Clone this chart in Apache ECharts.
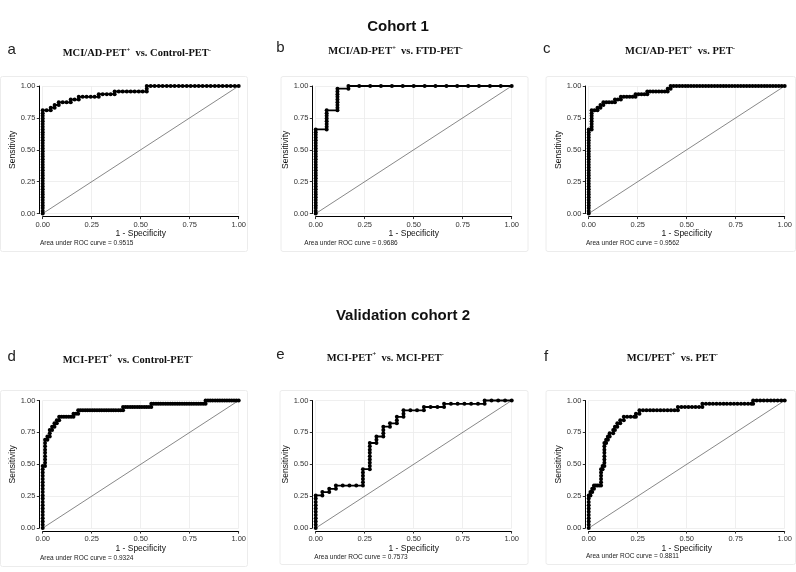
<!DOCTYPE html>
<html>
<head>
<meta charset="utf-8">
<script src="https://cdn.jsdelivr.net/npm/echarts@6/dist/echarts.min.js"></script>
<style>
html, body { margin: 0; padding: 0; background: #fff; }
#chart { width: 796px; height: 572px; }
</style>
</head>
<body>
<div id="chart"></div>
<script>
// ROC points [1 - specificity, sensitivity]
const rocA = [[0,0],[0,.021],[0,.043],[0,.064],[0,.085],[0,.106],[0,.128],[0,.149],[0,.170],[0,.191],[0,.213],[0,.234],[0,.255],[0,.277],[0,.298],[0,.319],[0,.340],[0,.362],[0,.383],[0,.404],[0,.426],[0,.447],[0,.468],[0,.489],[0,.511],[0,.532],[0,.553],[0,.574],[0,.596],[0,.617],[0,.638],[0,.660],[0,.681],[0,.702],[0,.723],[0,.745],[0,.766],[0,.787],[0,.809],
  [.020,.809],[.041,.809],[.041,.830],[.061,.830],[.061,.851],[.082,.851],[.082,.872],[.102,.872],[.122,.872],[.143,.872],[.143,.894],[.163,.894],[.184,.894],[.184,.915],[.204,.915],[.224,.915],[.245,.915],[.265,.915],[.286,.915],[.286,.936],[.306,.936],[.327,.936],[.347,.936],[.367,.936],[.367,.957],[.388,.957],[.408,.957],[.429,.957],[.449,.957],[.469,.957],[.490,.957],[.510,.957],[.531,.957],[.531,.979],[.531,1],
  [.551,1],[.571,1],[.592,1],[.612,1],[.633,1],[.653,1],[.673,1],[.694,1],[.714,1],[.735,1],[.755,1],[.776,1],[.796,1],[.816,1],[.837,1],[.857,1],[.878,1],[.898,1],[.918,1],[.939,1],[.959,1],[.980,1],[1,1]];

const rocB = [[0,0],[0,.021],[0,.043],[0,.064],[0,.085],[0,.106],[0,.128],[0,.149],[0,.170],[0,.191],[0,.213],[0,.234],[0,.255],[0,.277],[0,.298],[0,.319],[0,.340],[0,.362],[0,.383],[0,.404],[0,.426],[0,.447],[0,.468],[0,.489],[0,.511],[0,.532],[0,.553],[0,.574],[0,.596],[0,.617],[0,.638],[0,.660],
  [.056,.660],[.056,.681],[.056,.702],[.056,.723],[.056,.745],[.056,.766],[.056,.787],[.056,.809],
  [.111,.809],[.111,.830],[.111,.851],[.111,.872],[.111,.894],[.111,.915],[.111,.936],[.111,.957],[.111,.979],
  [.167,.979],[.167,1],[.222,1],[.278,1],[.333,1],[.389,1],[.444,1],[.5,1],[.556,1],[.611,1],[.667,1],[.722,1],[.778,1],[.833,1],[.889,1],[.944,1],[1,1]];

const rocC = [[0,0],[0,.021],[0,.043],[0,.064],[0,.085],[0,.106],[0,.128],[0,.149],[0,.170],[0,.191],[0,.213],[0,.234],[0,.255],[0,.277],[0,.298],[0,.319],[0,.340],[0,.362],[0,.383],[0,.404],[0,.426],[0,.447],[0,.468],[0,.489],[0,.511],[0,.532],[0,.553],[0,.574],[0,.596],[0,.617],[0,.638],[0,.660],
  [.015,.660],[.015,.681],[.015,.702],[.015,.723],[.015,.745],[.015,.766],[.015,.787],[.015,.809],[.030,.809],[.045,.809],[.045,.830],[.060,.830],[.060,.851],[.075,.851],[.075,.872],[.090,.872],[.104,.872],[.119,.872],[.134,.872],[.134,.894],[.149,.894],[.164,.894],[.164,.915],[.179,.915],[.194,.915],[.209,.915],[.224,.915],[.239,.915],[.239,.936],[.254,.936],[.269,.936],[.284,.936],[.299,.936],[.299,.957],[.313,.957],[.328,.957],[.343,.957],[.358,.957],[.373,.957],[.388,.957],[.403,.957],[.403,.979],[.418,.979],[.418,1],
  [.433,1],[.448,1],[.463,1],[.478,1],[.493,1],[.507,1],[.522,1],[.537,1],[.552,1],[.567,1],[.582,1],[.597,1],[.612,1],[.627,1],[.642,1],[.657,1],[.672,1],[.687,1],[.701,1],[.716,1],[.731,1],[.746,1],[.761,1],[.776,1],[.791,1],[.806,1],[.821,1],[.836,1],[.851,1],[.866,1],[.881,1],[.896,1],[.910,1],[.925,1],[.940,1],[.955,1],[.970,1],[.985,1],[1,1]];

const rocD = [[0,0],[0,.026],[0,.051],[0,.077],[0,.103],[0,.128],[0,.154],[0,.179],[0,.205],[0,.231],[0,.256],[0,.282],[0,.308],[0,.333],[0,.359],[0,.385],[0,.410],[0,.436],[0,.462],[0,.487],
  [.012,.487],[.012,.513],[.012,.538],[.012,.564],[.012,.590],[.012,.615],[.012,.641],[.012,.667],[.012,.692],[.024,.692],[.024,.718],[.036,.718],[.036,.744],[.036,.769],[.048,.769],[.048,.795],[.060,.795],[.060,.821],[.072,.821],[.072,.846],[.084,.846],[.084,.872],
  [.096,.872],[.108,.872],[.120,.872],[.133,.872],[.145,.872],[.157,.872],[.157,.897],[.169,.897],[.181,.897],[.181,.923],
  [.193,.923],[.205,.923],[.217,.923],[.229,.923],[.241,.923],[.253,.923],[.265,.923],[.277,.923],[.289,.923],[.301,.923],[.313,.923],[.325,.923],[.337,.923],[.349,.923],[.361,.923],[.373,.923],[.386,.923],[.398,.923],[.410,.923],[.410,.949],
  [.422,.949],[.434,.949],[.446,.949],[.458,.949],[.470,.949],[.482,.949],[.494,.949],[.506,.949],[.518,.949],[.530,.949],[.542,.949],[.554,.949],[.554,.974],
  [.566,.974],[.578,.974],[.590,.974],[.602,.974],[.614,.974],[.627,.974],[.639,.974],[.651,.974],[.663,.974],[.675,.974],[.687,.974],[.699,.974],[.711,.974],[.723,.974],[.735,.974],[.747,.974],[.759,.974],[.771,.974],[.783,.974],[.795,.974],[.807,.974],[.819,.974],[.831,.974],[.831,1],
  [.843,1],[.855,1],[.867,1],[.880,1],[.892,1],[.904,1],[.916,1],[.928,1],[.940,1],[.952,1],[.964,1],[.976,1],[.988,1],[1,1]];

const rocE = [[0,0],[0,.026],[0,.051],[0,.077],[0,.103],[0,.128],[0,.154],[0,.179],[0,.205],[0,.231],[0,.256],
  [.034,.256],[.034,.282],[.069,.282],[.069,.308],[.103,.308],[.103,.333],[.138,.333],[.172,.333],[.207,.333],[.241,.333],
  [.241,.359],[.241,.385],[.241,.410],[.241,.436],[.241,.462],[.276,.462],[.276,.487],[.276,.513],[.276,.538],[.276,.564],[.276,.590],[.276,.615],[.276,.641],[.276,.667],
  [.310,.667],[.310,.692],[.310,.718],[.345,.718],[.345,.744],[.345,.769],[.345,.795],[.379,.795],[.379,.821],[.414,.821],[.414,.846],[.414,.872],[.448,.872],[.448,.897],[.448,.923],
  [.483,.923],[.517,.923],[.552,.923],[.552,.949],[.586,.949],[.621,.949],[.655,.949],[.655,.974],[.690,.974],[.724,.974],[.759,.974],[.793,.974],[.828,.974],[.862,.974],[.862,1],[.897,1],[.931,1],[.966,1],[1,1]];

const rocF = [[0,0],[0,.026],[0,.051],[0,.077],[0,.103],[0,.128],[0,.154],[0,.179],[0,.205],[0,.231],[0,.256],
  [.009,.256],[.009,.282],[.018,.282],[.018,.308],[.027,.308],[.027,.333],[.036,.333],[.045,.333],[.054,.333],[.063,.333],
  [.063,.359],[.063,.385],[.063,.410],[.063,.436],[.063,.462],[.071,.462],[.071,.487],[.080,.487],[.080,.513],[.080,.538],[.080,.564],[.080,.590],[.080,.615],[.080,.641],[.080,.667],
  [.089,.667],[.089,.692],[.098,.692],[.098,.718],[.107,.718],[.107,.744],[.125,.744],[.125,.769],[.134,.769],[.134,.795],[.146,.795],[.146,.821],[.161,.821],[.161,.846],[.179,.846],[.179,.872],
  [.196,.872],[.214,.872],[.232,.872],[.241,.872],[.241,.897],[.259,.897],[.259,.923],
  [.277,.923],[.295,.923],[.313,.923],[.330,.923],[.348,.923],[.366,.923],[.384,.923],[.402,.923],[.420,.923],[.438,.923],[.455,.923],[.455,.949],
  [.473,.949],[.491,.949],[.509,.949],[.527,.949],[.545,.949],[.563,.949],[.580,.949],[.580,.974],
  [.598,.974],[.616,.974],[.634,.974],[.652,.974],[.670,.974],[.688,.974],[.705,.974],[.723,.974],[.741,.974],[.759,.974],[.777,.974],[.795,.974],[.813,.974],[.830,.974],[.839,.974],[.839,1],
  [.857,1],[.875,1],[.893,1],[.911,1],[.929,1],[.946,1],[.964,1],[.982,1],[1,1]];

const chanceLine = [[0,0],[1,1]];
const rocData = [rocA, rocB, rocC, rocD, rocE, rocF];
const panelLetters = ['a', 'b', 'c', 'd', 'e', 'f'];
const panelTitles = [
  [['MCI/AD-PET', '+'], ['  vs. Control-PET', '-']],
  [['MCI/AD-PET', '+'], ['  vs. FTD-PET', '-']],
  [['MCI/AD-PET', '+'], ['  vs. PET', '-']],
  [['MCI-PET', '+'], ['  vs. Control-PET', '-']],
  [['MCI-PET', '+'], ['  vs. MCI-PET', '-']],
  [['MCI/PET', '+'], ['  vs. PET', '-']]
];
const aucValues = ['0.9515', '0.9686', '0.9562', '0.9324', '0.7573', '0.8811'];
const cohortTitles = ['Cohort 1', 'Validation cohort 2'];

// layout
const colLeft = [42.7, 315.7, 588.7];
const rowTop = [86, 400.5];
const plotW = 196;
const plotH = 127.6;
const boxes = [
  [0.5, 76.5, 247, 175], [281, 76.5, 247, 175], [546, 76.5, 249.5, 175],
  [0.5, 390.5, 247, 176], [280, 390.5, 248, 174], [546, 390.5, 249.5, 174]
];
const letterPos = [[11.7, 57], [280.3, 55], [546.7, 56], [11.7, 364], [280.3, 362], [546, 364]];
const titlePos = [[62.7, 52.7], [328.3, 50.7], [625, 50.7], [62.7, 359.3], [326.7, 357.3], [626.7, 357.3]];
const aucPos = [[40, 243.3], [304.3, 243.3], [586, 243.3], [40, 558], [314.3, 557.3], [586, 556.7]];

const sans = 'Liberation Sans, Arial, sans-serif';
const serif = 'Liberation Serif, Times New Roman, serif';

const chart = echarts.init(document.getElementById('chart'), null, { renderer: 'canvas' });

const grids = [], xAxes = [], yAxes = [], series = [], graphics = [];

boxes.forEach(b => {
  graphics.push({
    type: 'rect', z: -10, silent: true,
    shape: { x: b[0], y: b[1], width: b[2], height: b[3], r: 2 },
    style: { fill: '#fff', stroke: '#ececec', lineWidth: 1 }
  });
});

rocData.forEach((data, i) => {
  const row = i < 3 ? 0 : 1;
  const col = i % 3;
  grids.push({ left: colLeft[col], top: rowTop[row], width: plotW, height: plotH });
  xAxes.push({
    gridIndex: i, type: 'value', min: 0, max: 1, interval: 0.25, offset: 3,
    axisLine: { show: true, onZero: false, lineStyle: { color: '#000', width: 1 } },
    axisTick: { show: true, length: 2.5, lineStyle: { color: '#333' } },
    axisLabel: { fontSize: 7.5, color: '#333', margin: 4, fontFamily: sans, formatter: v => v.toFixed(2) },
    splitLine: { show: true, lineStyle: { color: '#ebebeb', width: 0.8 } },
    name: '1 - Specificity', nameLocation: 'middle', nameGap: 11.5,
    nameTextStyle: { fontSize: 8.5, color: '#111', fontFamily: sans }
  });
  yAxes.push({
    gridIndex: i, type: 'value', min: 0, max: 1, interval: 0.25, offset: 3.4,
    axisLine: { show: true, onZero: false, lineStyle: { color: '#000', width: 1 } },
    axisTick: { show: true, length: 2.5, lineStyle: { color: '#333' } },
    axisLabel: { fontSize: 7.5, color: '#333', margin: 4, fontFamily: sans, formatter: v => v.toFixed(2) },
    splitLine: { show: true, lineStyle: { color: '#ebebeb', width: 0.8 } },
    name: 'Sensitivity', nameLocation: 'middle', nameGap: 21.5, nameRotate: 90,
    nameTextStyle: { fontSize: 8.5, color: '#111', fontFamily: sans }
  });
  series.push({
    type: 'line', xAxisIndex: i, yAxisIndex: i, data: chanceLine,
    symbol: 'none', silent: true, z: 2, clip: false,
    lineStyle: { color: '#555', width: 0.7 }
  });
  series.push({
    type: 'line', xAxisIndex: i, yAxisIndex: i, data: data,
    symbol: 'circle', symbolSize: 4, showAllSymbol: true, clip: false, z: 3,
    lineStyle: { color: '#000', width: 1.8 },
    itemStyle: { color: '#000' }
  });

  graphics.push({
    type: 'text', x: letterPos[i][0], y: letterPos[i][1],
    style: { text: panelLetters[i], font: '15px ' + sans, fill: '#222', align: 'center', verticalAlign: 'bottom' }
  });
  const rich = panelTitles[i].map(p => '{t|' + p[0] + '}{s|' + p[1] + '}').join('');
  graphics.push({
    type: 'text', x: titlePos[i][0], y: titlePos[i][1],
    style: {
      text: rich, align: 'left', verticalAlign: 'middle',
      rich: {
        t: { fontFamily: serif, fontSize: 10.5, fontWeight: 'bold', fill: '#111', lineHeight: 13, verticalAlign: 'bottom' },
        s: { fontFamily: serif, fontSize: 7, fontWeight: 'bold', fill: '#111', lineHeight: 13, verticalAlign: 'top' }
      }
    }
  });
  graphics.push({
    type: 'text', x: aucPos[i][0], y: aucPos[i][1],
    style: { text: 'Area under ROC curve = ' + aucValues[i], font: '6.5px ' + sans, fill: '#222', align: 'left', verticalAlign: 'middle' }
  });
});

graphics.push({
  type: 'text', x: 398, y: 27,
  style: { text: cohortTitles[0], font: 'bold 15px ' + sans, fill: '#111', align: 'center', verticalAlign: 'middle' }
});
graphics.push({
  type: 'text', x: 403, y: 316,
  style: { text: cohortTitles[1], font: 'bold 15px ' + sans, fill: '#111', align: 'center', verticalAlign: 'middle' }
});

chart.setOption({
  animation: false,
  backgroundColor: '#fff',
  grid: grids,
  xAxis: xAxes,
  yAxis: yAxes,
  series: series,
  graphic: graphics
});

window.addEventListener('resize', () => chart.resize());
</script>
</body>
</html>
